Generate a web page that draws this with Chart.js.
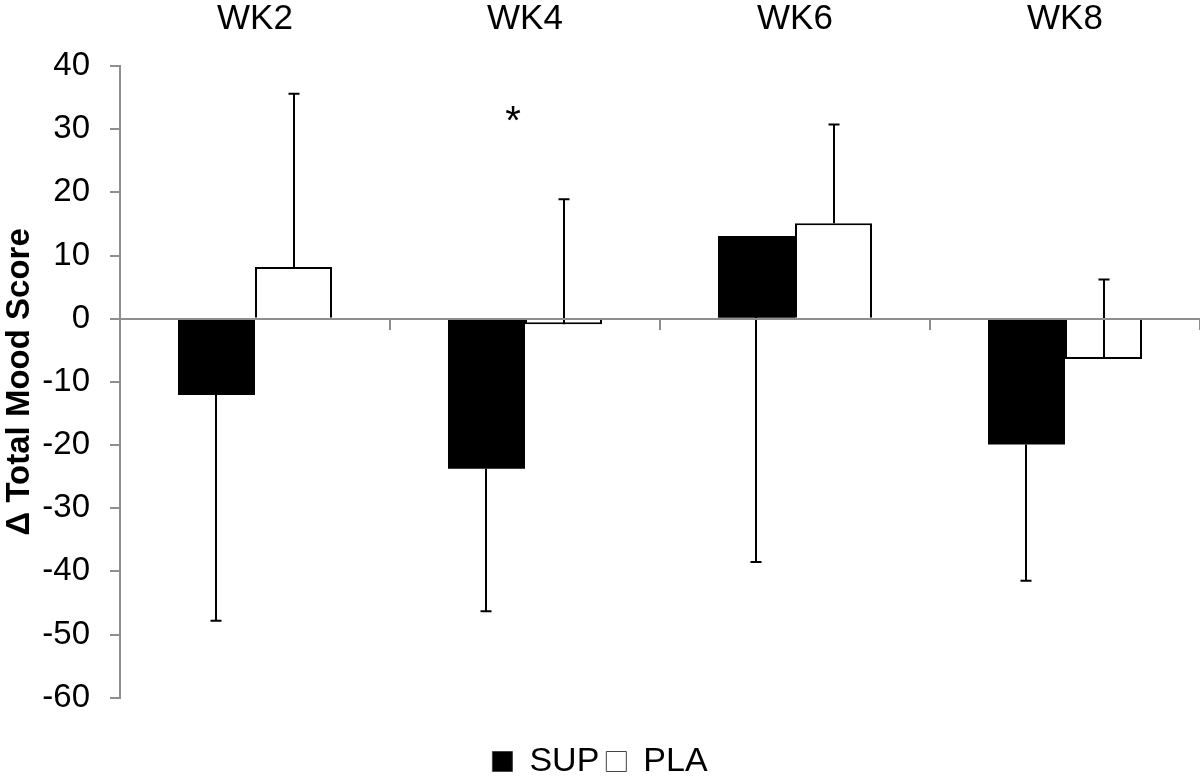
<!DOCTYPE html>
<html>
<head>
<meta charset="utf-8">
<script src="https://cdn.jsdelivr.net/npm/chart.js@4.4.1/dist/chart.umd.min.js"></script>
<style>
  html, body { margin: 0; padding: 0; background: #ffffff; }
  #wrap { width: 1200px; height: 778px; position: relative; }
</style>
</head>
<body>
<div id="wrap"><canvas id="c" width="1200" height="778"></canvas></div>
<script>
// ---- data ----
const categories = ['WK2', 'WK4', 'WK6', 'WK8'];
const supValues = [-12.1, -23.75, 13.1, -19.9];
const supSD     = [35.7, 22.55, 51.6, 21.6];   // error bar drawn downward
const plaValues = [8.2, -0.9, 15.1, -6.4];
const plaSD     = [27.4, 19.8, 15.65, 12.6];   // error bar drawn upward
const sigMarks  = ['', '*', '', ''];
const sigLevel  = 31.0;
const yTicks    = { min: -60, max: 40, step: 10 };

const FONT = '"Liberation Sans", Arial, Helvetica, sans-serif';
const AXIS_GRAY = '#8e8e8e';

const errorBarPlugin = {
  id: 'errorBars',
  afterDatasetsDraw(chart) {
    const ctx = chart.ctx;
    const y = chart.scales.y;
    const defs = [
      { idx: 0, vals: supValues, sd: supSD, dir: -1 },
      { idx: 1, vals: plaValues, sd: plaSD, dir: 1 }
    ];
    ctx.save();
    ctx.strokeStyle = '#000';
    ctx.lineWidth = 2;
    defs.forEach(d => {
      const meta = chart.getDatasetMeta(d.idx);
      meta.data.forEach((bar, i) => {
        const x = Math.round(bar.x);
        const y0 = y.getPixelForValue(d.vals[i]);
        const y1 = y.getPixelForValue(d.vals[i] + d.dir * d.sd[i]);
        ctx.beginPath();
        ctx.moveTo(x, y0);
        ctx.lineTo(x, y1);
        ctx.moveTo(x - 5.5, y1);
        ctx.lineTo(x + 5.5, y1);
        ctx.stroke();
      });
    });
    // significance marks
    ctx.fillStyle = '#000';
    ctx.font = '40px ' + FONT;
    ctx.textAlign = 'center';
    ctx.textBaseline = 'middle';
    const xs = chart.scales.x;
    sigMarks.forEach((m, i) => {
      if (m) ctx.fillText(m, xs.getPixelForValue(i) - 12, y.getPixelForValue(sigLevel));
    });
    ctx.restore();
  }
};

new Chart(document.getElementById('c'), {
  type: 'bar',
  data: {
    labels: categories,
    datasets: [
      {
        label: 'SUP',
        data: supValues,
        backgroundColor: '#000000',
        borderColor: '#000000',
        borderWidth: 0,
        categoryPercentage: 0.5704,
        barPercentage: 1.0
      },
      {
        label: 'PLA',
        data: plaValues,
        backgroundColor: '#ffffff',
        borderColor: '#000000',
        borderWidth: 2,
        categoryPercentage: 0.5704,
        barPercentage: 1.0
      }
    ]
  },
  options: {
    responsive: false,
    animation: false,
    events: [],
    layout: { padding: { left: 0, right: 0, top: 0, bottom: -10.5 } },
    plugins: {
      tooltip: { enabled: false },
      legend: {
        display: true,
        position: 'bottom',
        labels: {
          color: '#000',
          font: { family: FONT, size: 34 },
          boxWidth: 20,
          boxHeight: 20,
          padding: 7,
          generateLabels(chart) {
            return chart.data.datasets.map((ds, i) => ({
              text: ds.label,
              fillStyle: ds.backgroundColor,
              strokeStyle: '#444',
              lineWidth: 1,
              fontColor: '#000',
              hidden: false,
              datasetIndex: i
            }));
          }
        }
      }
    },
    scales: {
      x: {
        type: 'category',
        position: 'top',
        offset: true,
        grid: { display: false, drawTicks: false },
        border: { display: false },
        ticks: { color: '#000', font: { family: FONT, size: 35 }, padding: 26, maxRotation: 0 },
        afterFit(s) { s.height = 66; }
      },
      x2: {
        type: 'category',
        position: { y: 0 },
        offset: true,
        grid: { display: true, offset: true, drawOnChartArea: false, drawTicks: true, tickLength: 10, color: AXIS_GRAY, lineWidth: 2 },
        border: { display: true, color: AXIS_GRAY, width: 2, z: 1 },
        ticks: { display: false }
      },
      xb: {
        type: 'category',
        position: 'bottom',
        grid: { display: false, drawTicks: false },
        border: { display: false },
        ticks: { display: false },
        afterFit(s) { s.height = 39.8; }
      },
      y: {
        type: 'linear',
        position: 'left',
        min: yTicks.min,
        max: yTicks.max,
        ticks: { stepSize: yTicks.step, color: '#000', font: { family: FONT, size: 33 }, padding: 20 },
        grid: { display: true, drawOnChartArea: false, drawTicks: true, tickLength: 10, color: AXIS_GRAY, lineWidth: 2 },
        border: { display: true, color: AXIS_GRAY, width: 2 },
        title: {
          display: true,
          text: 'Δ Total Mood Score',
          color: '#000',
          font: { family: FONT, size: 33, weight: 'bold' },
          padding: 0
        },
        afterFit(s) { s.width = 120; }
      }
    }
  },
  plugins: [errorBarPlugin]
});
</script>
</body>
</html>
